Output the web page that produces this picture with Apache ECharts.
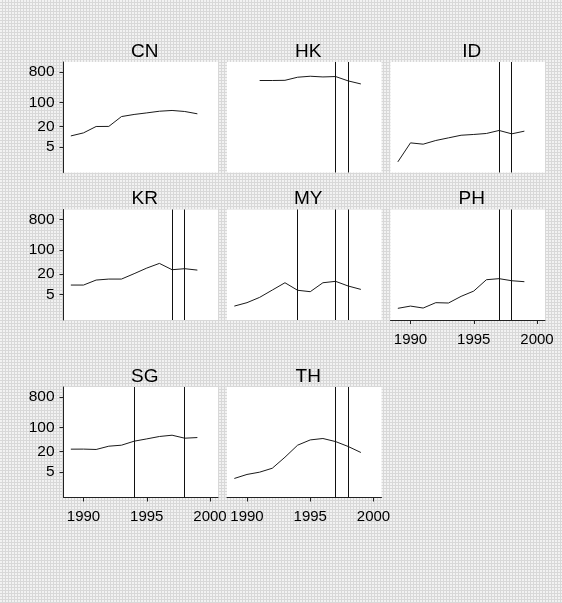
<!DOCTYPE html>
<html>
<head>
<meta charset="utf-8">
<script src="https://cdn.jsdelivr.net/npm/echarts@6/dist/echarts.min.js"></script>
<style>
html,body{margin:0;padding:0;background:#e6e6e6;}
#c{width:562px;height:603px;}
</style>
</head>
<body>
<div id="c"></div>
<script>
// ---- data ----
const years = [1989,1990,1991,1992,1993,1994,1995,1996,1997,1998,1999];
const panels = ['CN','HK','ID','KR','MY','PH','SG','TH'];
const CN = [10.5,12.9,19.9,20,39,45,50,56,59,55,47];
const HK = [null,null,449,449,455,561,600,572,588,437,356];
const ID = [1.81,6.56,6.0,7.7,9.2,11.0,11.6,12.4,15.2,12.1,14.5];
const KR = [9.4,9.4,13.2,14.1,14.1,20.3,29.7,40.8,26.6,28.5,25.9];
const MY = [2.26,2.85,4.08,6.7,11.0,6.6,6.0,11.0,12.1,8.8,7.0];
const PH = [1.94,2.26,1.98,2.85,2.78,4.37,6.25,13.5,14.5,12.6,11.8];
const SG = [23.3,23.4,22.8,28.5,30.5,40,46.7,55,60,49,51.2];
const TH = [3.2,4.2,4.9,6.4,13.5,30.5,43.6,48,39,27.9,18.6];
const CN_lines = [];
const HK_lines = [1997,1998];
const ID_lines = [1997,1998];
const KR_lines = [1997,1998];
const MY_lines = [1994,1997,1998];
const PH_lines = [1997,1998];
const SG_lines = [1994,1998];
const TH_lines = [1997,1998];
const yTicks = [5,20,100,800];
const xTicks = [1990,1995,2000];

const seriesValues = {CN,HK,ID,KR,MY,PH,SG,TH};
const eventLines = {CN:CN_lines,HK:HK_lines,ID:ID_lines,KR:KR_lines,MY:MY_lines,PH:PH_lines,SG:SG_lines,TH:TH_lines};

// ---- layout ----
const FONT = '"Liberation Sans", Arial, Helvetica, sans-serif';
const colLeft = [63.5, 227, 390.5];
const rowTop = [62, 209.5, 387];
const W = 154.5, H = 110.5;

// background dotted pattern
const pc = document.createElement('canvas');
pc.width = 3; pc.height = 3;
const pctx = pc.getContext('2d');
pctx.fillStyle = '#d8d8d8'; pctx.fillRect(0,0,3,3);
pctx.fillStyle = '#f2f2f2'; pctx.fillRect(0,0,2,2);

const grids = [], xAxes = [], yAxes = [], series = [], titles = [];
panels.forEach((p, i) => {
  const col = i % 3, row = Math.floor(i / 3);
  const hasY = col === 0;
  const hasX = i >= 5;
  grids.push({left: colLeft[col], top: rowTop[row], width: W, height: H,
    show: true, backgroundColor: '#ffffff', borderWidth: 0, containLabel: false});
  titles.push({text: p, left: colLeft[col] + W / 2 + 4, top: rowTop[row] - 20,
    textAlign: 'center', textVerticalAlign: 'top', padding: 0,
    textStyle: {fontSize: 19, fontWeight: 'normal', color: '#000', fontFamily: FONT}});
  xAxes.push({type: 'value', gridIndex: i, min: 1988.42, max: 2000.63,
    axisLine: {show: hasX, onZero: false, lineStyle: {color: '#222', width: 1}},
    axisTick: {show: hasX, length: 4, customValues: xTicks, lineStyle: {color: '#222'}},
    axisLabel: {show: hasX, customValues: xTicks, margin: 12, fontSize: 15, color: '#000',
      fontFamily: FONT, formatter: v => String(v)},
    splitLine: {show: false}});
  yAxes.push({type: 'log', logBase: 10, gridIndex: i, min: 0.88, max: 1575,
    axisLine: {show: hasY, onZero: false, lineStyle: {color: '#222', width: 1}},
    axisTick: {show: hasY, length: 4, customValues: yTicks, lineStyle: {color: '#222'}},
    axisLabel: {show: hasY, customValues: yTicks, margin: 9, fontSize: 15.5, color: '#000',
      fontFamily: FONT, formatter: v => String(Math.round(v))},
    splitLine: {show: false}, minorTick: {show: false}});
  const vals = seriesValues[p];
  const data = [];
  years.forEach((y, k) => { if (vals[k] != null) data.push([y, vals[k]]); });
  series.push({type: 'line', xAxisIndex: i, yAxisIndex: i, data: data,
    symbol: 'none', silent: true, animation: false,
    lineStyle: {color: '#1a1a1a', width: 1},
    markLine: {symbol: ['none', 'none'], silent: true, animation: false,
      label: {show: false},
      lineStyle: {color: '#111', width: 1, type: 'solid'},
      emphasis: {disabled: true},
      data: eventLines[p].map(x => ({xAxis: x}))}});
});

const chart = echarts.init(document.getElementById('c'), null, {renderer: 'canvas'});
chart.setOption({
  backgroundColor: {image: pc, repeat: 'repeat'},
  animation: false,
  title: titles,
  grid: grids,
  xAxis: xAxes,
  yAxis: yAxes,
  series: series
});
</script>
</body>
</html>
